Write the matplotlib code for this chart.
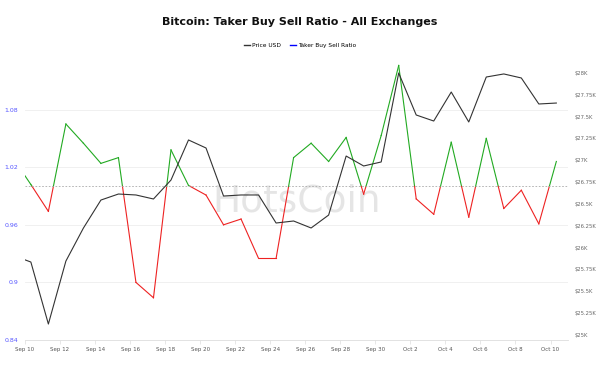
import matplotlib
matplotlib.use("Agg")
import matplotlib.pyplot as plt
import matplotlib.dates as mdates
from matplotlib.lines import Line2D
from datetime import datetime, timedelta

# Data (Sep 10 00:00, then daily at 08:00 from Sep 10 to Oct 10)
dates = [datetime(2023, 9, 10, 0)] + [datetime(2023, 9, 10, 8) + timedelta(days=i) for i in range(31)]

ratio = [1.011, 1.002, 0.974, 1.065, 1.045, 1.024, 1.030, 0.900, 0.884, 1.038,
         1.001, 0.991, 0.960, 0.966, 0.925, 0.925, 1.030, 1.045, 1.026, 1.051,
         0.992, 1.053, 1.126, 0.987, 0.971, 1.046, 0.968, 1.050, 0.977, 0.996,
         0.961, 1.026]

price = [25860, 25835, 25125, 25846, 26224, 26545, 26614, 26603, 26557, 26774,
         27233, 27141, 26591, 26603, 26603, 26282, 26305, 26225, 26373, 27049,
         26935, 26981, 28000, 27519, 27450, 27782, 27439, 27954, 27989, 27943,
         27645, 27656]

left_ticks = [0.84, 0.9, 0.96, 1.02, 1.08]
right_ticks = [25000, 25250, 25500, 25750, 26000, 26250, 26500, 26750,
               27000, 27250, 27500, 27750, 28000]
baseline = 1.0

fig = plt.figure(figsize=(6, 3.78), dpi=100)
ax = fig.add_axes([0.0417, 0.1005, 0.905, 0.7355])
ax2 = ax.twinx()

# split the ratio line where it crosses 1.0 so each piece gets its colour
xn = mdates.date2num(dates)
for i in range(len(xn) - 1):
    x0, x1 = xn[i], xn[i + 1]
    y0, y1 = ratio[i], ratio[i + 1]
    if (y0 - baseline) * (y1 - baseline) < 0:
        xc = x0 + (baseline - y0) / (y1 - y0) * (x1 - x0)
        ax.plot([x0, xc], [y0, baseline], color="#22aa22" if y0 > baseline else "#ee2222", lw=0.8)
        ax.plot([xc, x1], [baseline, y1], color="#22aa22" if y1 > baseline else "#ee2222", lw=0.8)
    else:
        c = "#22aa22" if (y0 + y1) / 2 >= baseline else "#ee2222"
        ax.plot([x0, x1], [y0, y1], color=c, lw=0.8)

ax.axhline(baseline, color="#aaaaaa", ls=(0, (2, 2)), lw=0.6)
ax2.plot(xn, price, color="#333333", lw=0.8)

ax.set_xlim(datetime(2023, 9, 10), datetime(2023, 10, 11))
ax.set_ylim(0.84, 1.1296)
ax2.set_ylim(24942, 28126)

ax.set_yticks(left_ticks)
ax.set_yticklabels(["0.84", "0.9", "0.96", "1.02", "1.08"])
ax2.set_yticks(right_ticks)
ax2.set_yticklabels(["$" + f"{v/1000:g}K" for v in right_ticks])

xt = [datetime(2023, 9, 10) + timedelta(days=2 * i) for i in range(16)]
ax.set_xticks(xt)
ax.set_xticklabels([f"{d:%b} {d.day}" for d in xt])

ax.grid(axis="y", color="#eeeeee", lw=0.6)
ax.set_axisbelow(True)
for a in (ax, ax2):
    for s in a.spines.values():
        s.set_visible(False)
ax.spines["bottom"].set_visible(True)
ax.spines["bottom"].set_color("#dddddd")
ax.spines["bottom"].set_linewidth(0.6)

ax.tick_params(axis="y", length=0, pad=5, labelsize=4.5, labelcolor="#5555ff")
ax.tick_params(axis="x", length=3, width=0.5, color="#dddddd", pad=2, labelsize=4, labelcolor="#555555")
ax2.tick_params(axis="y", length=0, pad=5, labelsize=3.8, labelcolor="#666666")

ax.text(0.5, 0.5, "HotsCoin", transform=ax.transAxes, ha="center", va="center",
        fontsize=27, color="#d5d5d5", alpha=0.6, zorder=0)

fig.text(0.5, 0.942, "Bitcoin: Taker Buy Sell Ratio - All Exchanges", ha="center", va="center",
         fontsize=8, fontweight="bold", color="#111111")

handles = [Line2D([], [], color="#333333", lw=1.0), Line2D([], [], color="#0000ff", lw=1.0)]
fig.legend(handles, ["Price USD", "Taker Buy Sell Ratio"], loc="center", bbox_to_anchor=(0.5, 0.88),
           ncol=2, frameon=False, fontsize=4.2, handlelength=1.0, handletextpad=0.4, columnspacing=1.5)

fig.savefig("out.png", dpi=100)
